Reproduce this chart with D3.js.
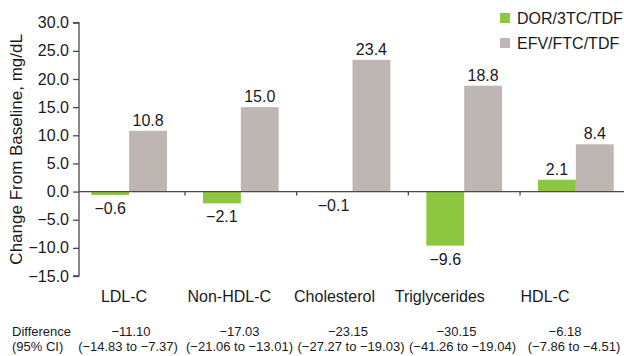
<!DOCTYPE html>
<html>
<head>
<meta charset="utf-8">
<script src="https://cdn.jsdelivr.net/npm/d3@7"></script>
<style>
  html, body { margin: 0; padding: 0; background: #fff; }
  svg { display: block; font-family: "Liberation Sans", Arial, Helvetica, sans-serif; }
</style>
</head>
<body>
<svg id="chart" width="624" height="356"></svg>
<script>
// Lipid parameters, change from baseline (mg/dL)
const categories = ["LDL-C", "Non-HDL-C", "Cholesterol", "Triglycerides", "HDL-C"];
const seriesNames = ["DOR/3TC/TDF", "EFV/FTC/TDF"];
const dorValues = [-0.6, -2.1, -0.1, -9.6, 2.1];
const efvValues = [10.8, 15.0, 23.4, 18.8, 8.4];
const yTicks = [-15, -10, -5, 0, 5, 10, 15, 20, 25, 30];
const diffValues = ["\u221211.10", "\u221217.03", "\u221223.15", "\u221230.15", "\u22126.18"];
const diffCI = ["(\u221214.83 to \u22127.37)", "(\u221221.06 to \u221213.01)", "(\u221227.27 to \u221219.03)",
                "(\u221241.26 to \u221219.04)", "(\u22127.86 to \u22124.51)"];

const colors = { "DOR/3TC/TDF": "#8dc63f", "EFV/FTC/TDF": "#bdb6b2" };
const axisColor = "#4a4a4a";
const textColor = "#1a1a1a";

const svg = d3.select("#chart");

const axisX = 79;
const y = d3.scaleLinear().domain([-15, 30]).range([276, 22.7]);
const x0 = d3.scaleBand().domain(categories).range([73.3, 631.7]).paddingInner(0).paddingOuter(0);
const x1 = d3.scaleBand().domain(seriesNames).range([0, x0.bandwidth()]).paddingInner(0).paddingOuter(0.475);

// category labels and difference table columns
const xLabel = d3.scalePoint().domain(categories).range([124, 545]);
const xDiff = d3.scalePoint().domain(categories).range([131, 565]);
const xCI = d3.scalePoint().domain(categories).range([128, 574]);

const rows = categories.map((c, i) => ({
  cat: c,
  vals: [
    { s: seriesNames[0], v: dorValues[i] },
    { s: seriesNames[1], v: efvValues[i] }
  ]
}));

// bars
const groups = svg.append("g").selectAll("g").data(rows).join("g")
  .attr("transform", d => `translate(${x0(d.cat)},0)`);

groups.selectAll("rect").data(d => d.vals).join("rect")
  .attr("x", d => x1(d.s))
  .attr("width", x1.bandwidth())
  .attr("y", d => y(Math.max(0, d.v)))
  .attr("height", d => Math.abs(y(d.v) - y(0)))
  .attr("fill", d => colors[d.s]);

// value labels
const fmt = v => d3.format(".1f")(v);
groups.selectAll("text.val").data(d => d.vals).join("text")
  .attr("class", "val")
  .attr("x", d => x1(d.s) + x1.bandwidth() / 2)
  .attr("y", d => d.v >= 0 ? y(d.v) - 5 : y(d.v) + 19)
  .attr("text-anchor", "middle")
  .attr("font-size", 16)
  .attr("fill", textColor)
  .text(d => fmt(d.v));

// y axis
const yAxis = d3.axisLeft(y).tickValues(yTicks).tickFormat(d3.format(".1f")).tickSize(6).tickPadding(4);
const gy = svg.append("g").attr("transform", `translate(${axisX},0)`).call(yAxis);
gy.select(".domain").attr("d", `M-6,${y(30)}H0V${y(-15)}H-6`).attr("stroke", axisColor).attr("stroke-width", 1.3);
gy.selectAll(".tick line").attr("stroke", axisColor).attr("stroke-width", 1.3);
gy.selectAll(".tick text").attr("font-size", 16).attr("fill", textColor)
  .attr("font-family", "'Liberation Sans', Arial, sans-serif");

// zero baseline with category separators
const zero = svg.append("g");
zero.append("line")
  .attr("x1", axisX).attr("x2", 624)
  .attr("y1", y(0)).attr("y2", y(0))
  .attr("stroke", axisColor).attr("stroke-width", 1.3);
zero.selectAll("line.sep").data(categories.slice(1).concat(["end"])).join("line")
  .attr("class", "sep")
  .attr("x1", (d, i) => x0.range()[0] + x0.step() * (i + 1))
  .attr("x2", (d, i) => x0.range()[0] + x0.step() * (i + 1))
  .attr("y1", y(0)).attr("y2", y(0) + 4)
  .attr("stroke", axisColor).attr("stroke-width", 1.3);

// y axis title
svg.append("text")
  .attr("transform", `translate(22,${(y(30) + y(-15)) / 2}) rotate(-90)`)
  .attr("text-anchor", "middle")
  .attr("font-size", 17)
  .attr("fill", textColor)
  .text("Change From Baseline, mg/dL");

// category labels
svg.append("g").selectAll("text").data(categories).join("text")
  .attr("x", d => xLabel(d))
  .attr("y", 302)
  .attr("text-anchor", "middle")
  .attr("font-size", 16)
  .attr("fill", textColor)
  .text(d => d);

// difference table
const tbl = svg.append("g").attr("font-size", 13).attr("fill", textColor);
tbl.append("text").attr("x", 12).attr("y", 336).text("Difference");
tbl.append("text").attr("x", 12).attr("y", 351).text("(95% CI)");
tbl.selectAll("text.diff").data(categories).join("text")
  .attr("class", "diff")
  .attr("x", d => xDiff(d)).attr("y", 336)
  .attr("text-anchor", "middle")
  .text((d, i) => diffValues[i]);
tbl.selectAll("text.ci").data(categories).join("text")
  .attr("class", "ci")
  .attr("x", d => xCI(d)).attr("y", 351)
  .attr("text-anchor", "middle")
  .text((d, i) => diffCI[i]);

// legend
const legend = svg.append("g").selectAll("g").data(seriesNames).join("g")
  .attr("transform", (d, i) => `translate(500,${13 + i * 25})`);
legend.append("rect").attr("width", 10).attr("height", 10).attr("fill", d => colors[d]);
legend.append("text").attr("x", 17).attr("y", 11).attr("font-size", 16).attr("fill", textColor).text(d => d);
</script>
</body>
</html>
